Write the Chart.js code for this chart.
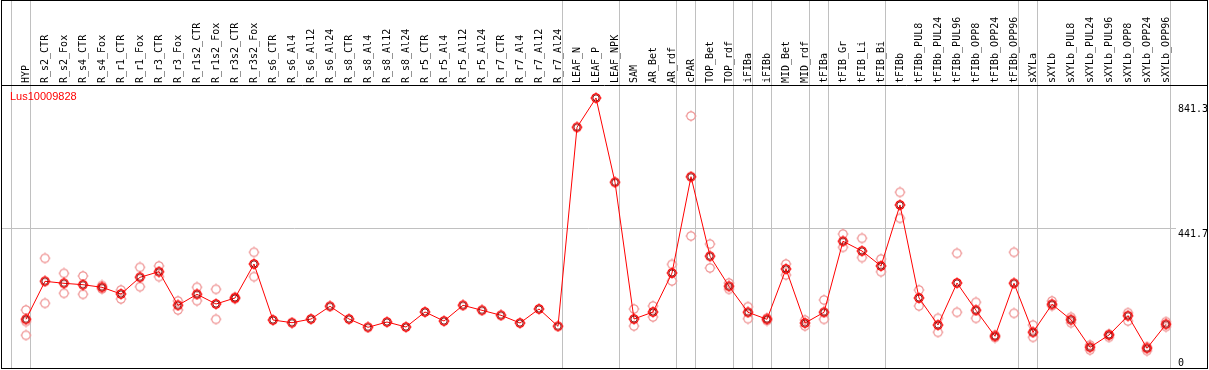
<!DOCTYPE html>
<html>
<head>
<meta charset="utf-8">
<script src="https://cdn.jsdelivr.net/npm/chart.js@4.4.1/dist/chart.umd.min.js"></script>
<style>
  html, body { margin: 0; padding: 0; background: #fff; }
</style>
</head>
<body>
<canvas id="chart" width="1209" height="370"></canvas>
<script>
const geneId = 'Lus10009828';

const categories = [
  'HYP', 'R_s2_CTR', 'R_s2_Fox', 'R_s4_CTR', 'R_s4_Fox', 'R_r1_CTR', 'R_r1_Fox', 'R_r3_CTR', 'R_r3_Fox',
  'R_r1s2_CTR', 'R_r1s2_Fox', 'R_r3s2_CTR', 'R_r3s2_Fox', 'R_s6_CTR', 'R_s6_Al4', 'R_s6_Al12', 'R_s6_Al24',
  'R_s8_CTR', 'R_s8_Al4', 'R_s8_Al12', 'R_s8_Al24', 'R_r5_CTR', 'R_r5_Al4', 'R_r5_Al12', 'R_r5_Al24',
  'R_r7_CTR', 'R_r7_Al4', 'R_r7_Al12', 'R_r7_Al24', 'LEAF_N', 'LEAF_P', 'LEAF_NPK', 'SAM', 'AR_Bet', 'AR_rdf',
  'cPAR', 'TOP_Bet', 'TOP_rdf', 'iFIBa', 'iFIBb', 'MID_Bet', 'MID_rdf', 'tFIBa', 'tFIB_Gr', 'tFIB_Li', 'tFIB_Bi',
  'tFIBb', 'tFIBb_PUL8', 'tFIBb_PUL24', 'tFIBb_PUL96', 'tFIBb_OPP8', 'tFIBb_OPP24', 'tFIBb_OPP96',
  'sXYLa', 'sXYLb', 'sXYLb_PUL8', 'sXYLb_PUL24', 'sXYLb_PUL96', 'sXYLb_OPP8', 'sXYLb_OPP24', 'sXYLb_OPP96'
];

// mean expression per sample
const means = [
  149.5, 271.1, 264.7, 260.2, 251.9, 230.5, 283.9, 301.9, 194.3, 229.5, 198.5, 217.7, 326.5,
  147.2, 138.6, 150.4, 191.1, 150.4, 123.9, 140.8, 124.8, 172.9, 144.0, 194.3, 178.3, 162.3, 137.6, 182.5, 127.1,
  764.1, 857.9, 588.0, 150.4, 172.9, 297.7, 606.0, 351.5, 255.1, 171.9, 149.5, 310.5, 137.6, 171.9,
  399.2, 368.1, 320.1, 515.4, 217.7, 131.2, 265.7, 178.3, 95.1, 264.7,
  107.9, 197.5, 148.2, 59.9, 99.2, 161.0, 56.7, 133.5
];

// replicate values (null = none shown)
const repA = [
  179.3, 344.8, 296.7, 288.1, 257.7, 243.3, 315.9, 320.1, 208.1, 251.9, 245.5, 220.9, 364.0,
  null, null, null, null, null, null, null, null, null, null, null, null, null, null, null, null,
  null, null, null, 182.5, 192.1, 325.5, 800.3, 390.5, 265.7, 189.8, 153.6, 326.5, 147.2, 211.3,
  422.5, 408.8, 342.5, 556.0, 243.3, 152.7, 360.8, 203.9, 99.2, 364.0,
  131.2, 208.1, 155.9, 67.2, 102.4, 170.6, 61.8, 141.8
];
const repB = [
  142.4, 200.7, 232.7, 229.5, 246.5, 214.5, 253.8, 285.9, 179.3, 209.0, 149.5, 214.5, 285.9,
  null, null, null, null, null, null, null, null, null, null, null, null, null, null, null, null,
  null, null, null, 128.0, 156.9, 272.1, 416.1, 313.7, 245.5, 151.4, 145.6, 291.3, 128.0, 149.5,
  380.0, 347.3, 301.9, 472.8, 192.1, 107.9, 171.9, 152.7, 91.2, 168.7,
  91.9, 193.0, 138.6, 51.2, 91.9, 144.0, 49.0, 125.8
];
const repC = [98.3];

const yTicks = [0, 441.7, 841.3];
// index of the last sample in each group
const groupEnds = [-1, 0, 28, 31, 34, 35, 37, 38, 39, 41, 42, 45, 52, 53, 60];

const toPoints = arr => arr.map((v, i) => v == null ? null : {x: i, y: v}).filter(p => p);

function makeMarker(outer, inner) {
  const c = document.createElement('canvas');
  c.width = 12; c.height = 12;
  const g = c.getContext('2d');
  g.strokeStyle = outer;
  g.lineWidth = 1.2;
  g.beginPath(); g.arc(6, 6, 4.2, 0, Math.PI * 2); g.stroke();
  g.beginPath();
  g.moveTo(6, 0.5); g.lineTo(6, 2); g.moveTo(6, 10); g.lineTo(6, 11.5);
  g.moveTo(0.5, 6); g.lineTo(2, 6); g.moveTo(10, 6); g.lineTo(11.5, 6);
  g.stroke();
  if (inner) {
    g.strokeStyle = inner;
    g.lineWidth = 0.9;
    g.beginPath(); g.arc(6, 6, 3.1, 0, Math.PI * 2); g.stroke();
  }
  return c;
}
const meanMarker = makeMarker('#ff0000', '#7a0000');
const repMarker = makeMarker('#f09a9a');

const framePlugin = {
  id: 'frame',
  beforeDraw(chart) {
    // group separators, under the sample names
    const ctx = chart.ctx;
    const x = chart.scales.x;
    ctx.save();
    ctx.strokeStyle = '#c0c0c0';
    ctx.lineWidth = 1;
    groupEnds.forEach(i => {
      const px = Math.floor(x.getPixelForValue(i + 0.22)) + 0.5;
      ctx.beginPath();
      ctx.moveTo(px, 0);
      ctx.lineTo(px, 368);
      ctx.stroke();
    });
    ctx.restore();
  },
  afterDraw(chart) {
    const ctx = chart.ctx;
    const y = chart.scales.y;
    const area = chart.chartArea;
    ctx.save();
    // outer box and the line under the sample names
    ctx.strokeStyle = '#000';
    ctx.lineWidth = 1;
    ctx.strokeRect(1.5, 0.5, 1206, 368);
    ctx.beginPath();
    ctx.moveTo(1, 85.5);
    ctx.lineTo(1208, 85.5);
    ctx.stroke();
    // value labels on the right
    ctx.fillStyle = '#000';
    ctx.font = '10px "DejaVu Sans Mono"';
    ctx.textBaseline = 'top';
    ctx.textAlign = 'left';
    yTicks.forEach(v => {
      const py = Math.min(y.getPixelForValue(v), area.bottom - 11);
      ctx.fillText(String(v), area.right + 2.5, py + 1);
    });
    // gene id
    ctx.fillStyle = '#ff0000';
    ctx.font = '11px "Liberation Sans"';
    ctx.fillText(geneId, 10, 91);
    ctx.restore();
  }
};

new Chart(document.getElementById('chart'), {
  type: 'line',
  data: {
    datasets: [
      {
        label: 'mean',
        data: toPoints(means),
        borderColor: '#ff0000',
        borderWidth: 1,
        pointStyle: meanMarker,
        pointRadius: 5,
        order: 0
      },
      {
        label: 'rep A',
        data: toPoints(repA),
        showLine: false,
        pointStyle: repMarker,
        pointRadius: 5,
        order: 1
      },
      {
        label: 'rep B',
        data: toPoints(repB),
        showLine: false,
        pointStyle: repMarker,
        pointRadius: 5,
        order: 1
      },
      {
        label: 'rep C',
        data: toPoints(repC),
        showLine: false,
        pointStyle: repMarker,
        pointRadius: 5,
        order: 1
      }
    ]
  },
  options: {
    responsive: false,
    animation: false,
    layout: { autoPadding: false, padding: { left: 1, right: 2, top: 0, bottom: 2 } },
    plugins: { legend: { display: false }, tooltip: { enabled: false } },
    elements: { line: { tension: 0 } },
    scales: {
      x: {
        type: 'linear',
        position: 'top',
        min: -25 / 19,
        max: 60.5,
        afterBuildTicks: s => { s.ticks = categories.map((c, i) => ({value: i})); },
        afterFit: s => {
          s.height = 86;
          s.paddingLeft = 0;
          s.paddingRight = 0;
        },
        grid: { display: false, drawTicks: false },
        border: { display: false },
        ticks: {
          autoSkip: false,
          minRotation: 90,
          maxRotation: 90,
          padding: 3,
          labelOffset: 12,
          color: '#000',
          font: { family: 'DejaVu Sans Mono', size: 10 },
          callback: v => categories[v]
        }
      },
      y: {
        position: 'right',
        min: -6.4,
        max: 896.3,
        afterBuildTicks: s => { s.ticks = yTicks.map(v => ({value: v})); },
        afterFit: s => {
          s.width = 31.5;
          s.paddingTop = 0;
          s.paddingBottom = 0;
        },
        grid: {
          drawTicks: false,
          color: c => (c.tick && c.tick.value === 441.7) ? '#c0c0c0' : 'rgba(0,0,0,0)'
        },
        border: { display: false },
        ticks: { display: false }
      }
    }
  },
  plugins: [framePlugin]
});
</script>
</body>
</html>
